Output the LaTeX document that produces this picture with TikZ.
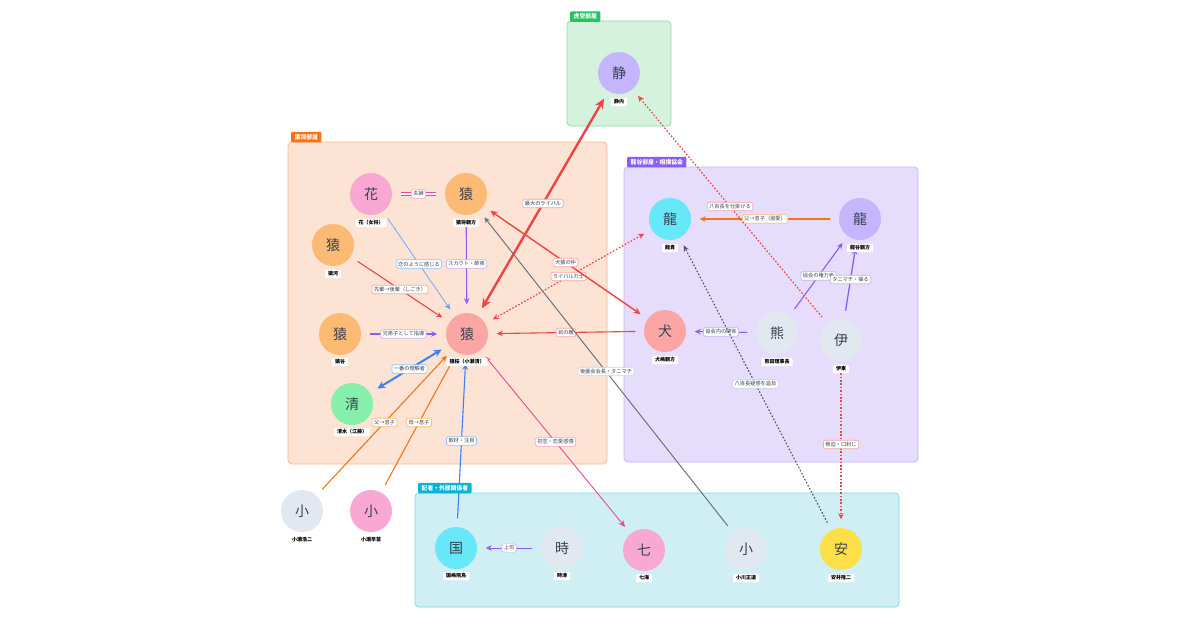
\documentclass[tikz,border=0pt]{standalone}
\usepackage{fontspec}
\setmainfont{Noto Sans CJK JP}
\usetikzlibrary{arrows.meta}
\definecolor{txt}{HTML}{374151}
\definecolor{cRed}{HTML}{EF4444}
\definecolor{lRed}{HTML}{FCA5A5}
\definecolor{cBlue}{HTML}{3B82F6}
\definecolor{cBlueL}{HTML}{60A5FA}
\definecolor{lBlue}{HTML}{93C5FD}
\definecolor{cPur}{HTML}{8B5CF6}
\definecolor{lPur}{HTML}{C4B5FD}
\definecolor{cOra}{HTML}{F97316}
\definecolor{lOra}{HTML}{FDBA74}
\definecolor{cGray}{HTML}{6B7280}
\definecolor{cDGray}{HTML}{475569}
\definecolor{lGray}{HTML}{CBD5E1}
\definecolor{cPink}{HTML}{EC4899}
\definecolor{lPink}{HTML}{F9A8D4}
\definecolor{nLav}{HTML}{C4B5FD}
\definecolor{nPink}{HTML}{F9A8D4}
\definecolor{nOra}{HTML}{FDBA74}
\definecolor{nSal}{HTML}{FCA5A5}
\definecolor{nGreen}{HTML}{86EFAC}
\definecolor{nCyan}{HTML}{67E8F9}
\definecolor{nGray}{HTML}{E2E8F0}
\definecolor{nYel}{HTML}{FDE047}
\definecolor{gGreenF}{HTML}{D5F2DF}
\definecolor{gGreenL}{HTML}{86E0A0}
\definecolor{gGreenT}{HTML}{22C55E}
\definecolor{gOraF}{HTML}{FDE3D3}
\definecolor{gOraL}{HTML}{FDBA8C}
\definecolor{gOraT}{HTML}{F97316}
\definecolor{gPurF}{HTML}{E6DDFD}
\definecolor{gPurL}{HTML}{C4B5FD}
\definecolor{gPurT}{HTML}{8B5CF6}
\definecolor{gCyanF}{HTML}{CFEFF5}
\definecolor{gCyanL}{HTML}{7DD9E8}
\definecolor{gCyanT}{HTML}{06B6D4}
\pgfdeclarelayer{bg}
\pgfdeclarelayer{edges}
\pgfsetlayers{bg,edges,main}
\begin{document}
\begin{tikzpicture}[x=1pt,y=-1pt,
  person/.style={circle, minimum size=42pt, inner sep=0pt, font=\fontsize{14}{16}\selectfont, text=txt},
  namelbl/.style={fill=white, rounded corners=1pt, inner xsep=3pt, inner ysep=1.8pt, font=\fontsize{5}{6}\selectfont\bfseries, text=black},
  elbl/.style={fill=white, rounded corners=1.5pt, line width=0.7pt, inner xsep=2pt, inner ysep=1.8pt, font=\fontsize{5.2}{6}\selectfont, text=txt},
  rel/.style={line width=1.1pt, shorten <=8.5pt, shorten >=8.5pt},
  ar/.style={-{Stealth[length=6pt,width=5.5pt]}},
  bar/.style={{Stealth[length=6pt,width=5.5pt]}-{Stealth[length=6pt,width=5.5pt]}},
  dotline/.style={dash pattern=on 1.6pt off 1.8pt},
  grp/.style={rounded corners=4pt, line width=0.8pt},
  tagbox/.style={anchor=south west, rounded corners=1pt, inner xsep=3.5pt, inner ysep=1.5pt, minimum height=10.5pt, font=\fontsize{5.8}{6}\selectfont\bfseries, text=white}
]
\useasboundingbox (0,0) rectangle (1200,630);

% groups
\begin{pgfonlayer}{bg}
\fill[white] (0,0) rectangle (1200,630);
\draw[grp, fill=gGreenF, draw=gGreenL] (567,21) rectangle (671,126);
\draw[grp, fill=gOraF, draw=gOraL] (288,142) rectangle (607,464);
\draw[grp, fill=gPurF, draw=gPurL] (624,167) rectangle (918,462);
\draw[grp, fill=gCyanF, draw=gCyanL] (415,493) rectangle (899,607);
\end{pgfonlayer}
\node[tagbox, fill=gGreenT] (tagA) at (570,22) {虎空部屋};
\node[tagbox, fill=gOraT] (tagB) at (291,142.5) {猿将部屋};
\node[tagbox, fill=gPurT] (tagC) at (627,167.5) {龍谷部屋・相撲協会};
\node[tagbox, fill=gCyanT] (tagD) at (418,493.5) {記者・外部関係者};

% persons
\node[person, fill=nLav] (shizu) at (619,73) {静};
\node[namelbl] (shizuN) at (619,102) {静内};
\node[person, fill=nPink] (hana) at (371,194) {花};
\node[namelbl] (hanaN) at (371,223) {花（女将）};
\node[person, fill=nOra] (enosho) at (466,194) {猿};
\node[namelbl] (enoshoN) at (466,223) {猿将親方};
\node[person, fill=nOra] (sarukawa) at (333,245) {猿};
\node[namelbl] (sarukawaN) at (333,274) {猿河};
\node[person, fill=nOra] (sarutani) at (340,334) {猿};
\node[namelbl] (sarutaniN) at (340,362) {猿谷};
\node[person, fill=nSal] (enoo) at (467,334) {猿};
\node[namelbl] (enooN) at (467,362) {猿桜（小瀬清）};
\node[person, fill=nGreen] (shimizu) at (352,404) {清};
\node[namelbl] (shimizuN) at (352,432) {清水（江藤）};
\node[person, fill=nCyan] (ryuki) at (670,219) {龍};
\node[namelbl] (ryukiN) at (670,248) {龍貴};
\node[person, fill=nLav] (ryugoku) at (860,219) {龍};
\node[namelbl] (ryugokuN) at (860,248) {龍谷親方};
\node[person, fill=nSal] (inujima) at (665,331) {犬};
\node[namelbl] (inujimaN) at (665,360) {犬嶋親方};
\node[person, fill=nGray] (kumada) at (777,333) {熊};
\node[namelbl] (kumadaN) at (777,362) {熊田理事長};
\node[person, fill=nGray] (ito) at (841,340) {伊};
\node[namelbl] (itoN) at (841,369) {伊東};
\node[person, fill=nGray] (koji) at (302,511) {小};
\node[namelbl] (kojiN) at (302,540) {小瀬浩二};
\node[person, fill=nPink] (sanae) at (371,511) {小};
\node[namelbl] (sanaeN) at (371,540) {小瀬早苗};
\node[person, fill=nCyan] (kunishima) at (456,548) {国};
\node[namelbl] (kunishimaN) at (456,576) {国嶋飛鳥};
\node[person, fill=nGray] (tokitsu) at (562,548) {時};
\node[namelbl] (tokitsuN) at (562,576) {時津};
\node[person, fill=nPink] (nanami) at (644,550) {七};
\node[namelbl] (nanamiN) at (644,578) {七海};
\node[person, fill=nGray] (ogawa) at (746,549) {小};
\node[namelbl] (ogawaN) at (746,578) {小川正道};
\node[person, fill=nYel] (yasui) at (841,549) {安};
\node[namelbl] (yasuiN) at (841,578) {安井隆二};

% relations
\begin{pgfonlayer}{edges}
\draw[rel, draw=cPink, double=white, double distance=1.6pt, line width=0.8pt] (hana) -- node[elbl, draw=lPink]{夫婦} (enosho);
\draw[rel, ar, cBlueL, line width=0.7pt] (hana) -- node[elbl, draw=lBlue]{恋のように感じる} (enoo);
\draw[rel, ar, cPur, shorten <=12pt] (enosho) -- node[elbl, draw=lPur]{スカウト・師弟} (enoo);
\draw[rel, ar, cRed] (sarukawa) -- node[elbl, draw=lRed]{先輩→後輩（しごき）} (enoo);
\draw[rel, ar, cPur] (sarutani) -- node[elbl, draw=lPur]{兄弟子として指導} (enoo);
\draw[rel, cBlue, line width=2pt, {Stealth[length=8pt,width=7.5pt]}-{Stealth[length=8pt,width=7.5pt]}] (shimizu) -- node[elbl, draw=lBlue]{一番の理解者} (enoo);
\draw[rel, ar, cOra] (koji) -- node[elbl, draw=lOra]{父→息子} (enoo);
\draw[rel, ar, cOra] (sanae) -- node[elbl, draw=lOra]{母→息子} (enoo);
\draw[rel, ar, cBlue] (kunishima) -- node[elbl, draw=lBlue]{取材・注目} (enoo);
\draw[rel, ar, cRed] (inujima) -- node[elbl, draw=lRed]{目の敵} (enoo);
\draw[rel, cRed, line width=2.4pt, {Stealth[length=10pt,width=9pt]}-{Stealth[length=10pt,width=9pt]}] (shizu) -- node[elbl, draw=lRed]{最大のライバル} (enoo);
\draw[rel, bar, cRed, dotline, line width=1.2pt] (ryuki) -- node[elbl, draw=lRed, solid]{ライバル力士} (enoo);
\draw[rel, cRed, line width=1.4pt, {Stealth[length=7pt,width=6.5pt]}-{Stealth[length=7pt,width=6.5pt]}] (enosho) -- node[elbl, draw=lRed]{犬猿の仲} (inujima);
\draw[rel, ar, cGray, line width=1pt] (ogawa) -- node[elbl, draw=lGray]{後援会会長・タニマチ} (enosho);
\draw[rel, cPink, line width=0.9pt, {Stealth[length=5pt,width=4.5pt]}-{Stealth[length=7pt,width=6pt]}] (enoo) -- node[elbl, draw=lPink]{初恋・恋愛感情} (nanami);
\draw[rel, ar, cOra, line width=1.4pt] (ryugoku) -- node[elbl, draw=lOra]{父→息子（溺愛）} (ryuki);
\draw[rel, ar, cRed, dotline, line width=1.2pt] (ito) -- node[elbl, draw=lRed, solid]{八百長を仕掛ける} (shizu);
\draw[rel, ar, cPur] (kumada) -- node[elbl, draw=lPur]{協会の権力者} (ryugoku);
\draw[rel, ar, cPur, line width=1.3pt] (ito) -- node[elbl, draw=lPur]{タニマチ・操る} (ryugoku);
\draw[rel, ar, cPur, line width=0.9pt] (kumada) -- node[elbl, draw=lPur]{協会内の関係} (inujima);
\draw[rel, ar, cDGray, dotline, line width=1.1pt] (yasui) -- node[elbl, draw=lGray, solid]{八百長疑惑を追及} (ryuki);
\draw[rel, ar, cRed, dotline, line width=1.4pt, shorten <=12pt] (ito) -- node[elbl, draw=lRed, solid]{脅迫・口封じ} (yasui);
\draw[rel, ar, cPur, line width=0.8pt] (tokitsu) -- node[elbl, draw=lPur]{上司} (kunishima);
\end{pgfonlayer}
\end{tikzpicture}
\end{document}
